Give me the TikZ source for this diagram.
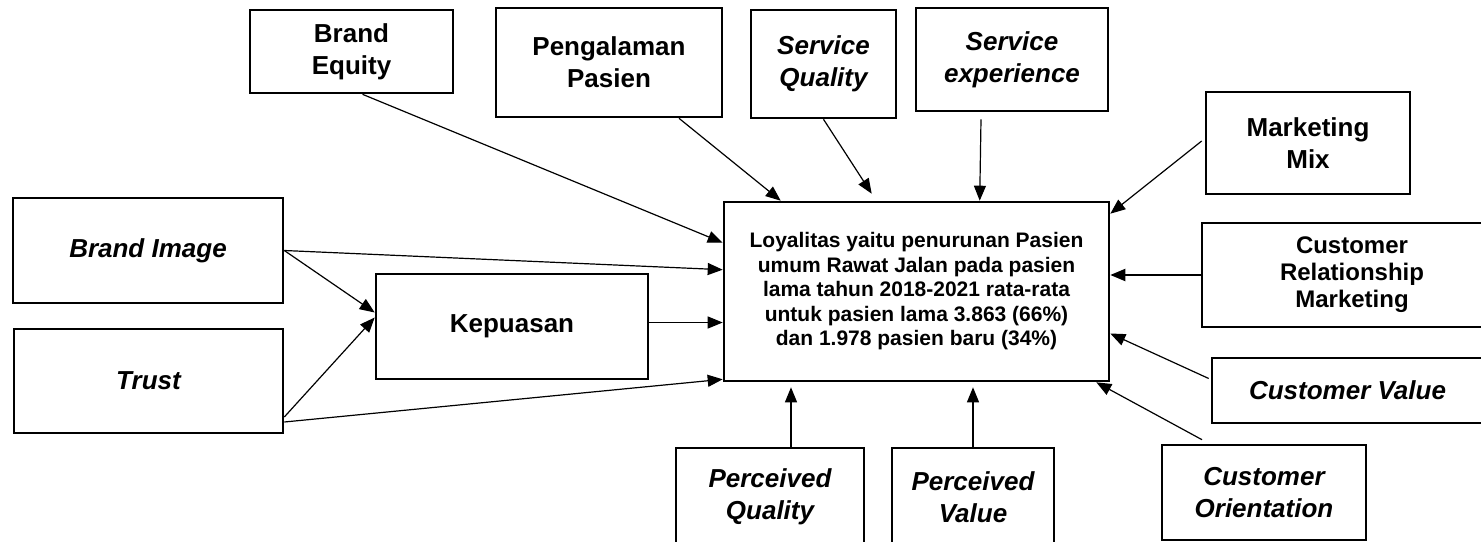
\documentclass[tikz,border=0pt]{standalone}
\usepackage{fontspec}
\setmainfont{Liberation Sans}
\usetikzlibrary{arrows.meta,calc}

\begin{document}
\begin{tikzpicture}[x=1pt, y=-1pt,
    % Styles
    factor/.style={draw=black, line width=2.6pt, align=center, inner sep=0pt, font=\fontsize{26}{32}\selectfont\bfseries},
    factor-it/.style={factor, font=\fontsize{26}{32}\selectfont\bfseries\itshape},
    loyalty/.style={draw=black, line width=2.6pt, align=center, inner sep=0pt, minimum width=385pt, minimum height=179pt, font=\fontsize{21}{24.5}\selectfont\bfseries},
    influence-arrow/.style={-{Triangle[length=15pt,width=12pt]}, line width=1.2pt, black},
]

\useasboundingbox (0,0) rectangle (1481,541);
\clip (0,0) rectangle (1481,541);

% Top row
\node[factor, minimum width=203pt, minimum height=83pt] (equity) at (351.5,51.5) {Brand\\Equity};
\node[factor, minimum width=226pt, minimum height=109pt] (pengalaman) at (609,62.5) {Pengalaman\\Pasien};
\node[factor-it, minimum width=145pt, minimum height=108pt] (squality) at (823.5,64) {Service\\Quality};
\node[factor-it, minimum width=192pt, minimum height=103pt] (sexperience) at (1012,59.5) {Service\\experience};

% Right column
\node[factor, minimum width=204pt, minimum height=102pt] (mix) at (1308,143) {Marketing\\Mix};
\node[factor, font=\fontsize{24}{27}\selectfont\bfseries, minimum width=300pt, minimum height=104pt] (crm) at (1352,275) {Customer\\Relationship\\Marketing};
\node[factor-it, minimum width=271pt, minimum height=65pt] (cvalue) at (1347.5,390.5) {Customer Value};
\node[factor-it, minimum width=204pt, minimum height=95pt] (orientation) at (1264,492.5) {Customer\\Orientation};

% Bottom row
\node[factor-it, minimum width=188pt, minimum height=98pt] (pquality) at (770,497) {Perceived\\Quality};
\node[factor-it, minimum width=162pt, minimum height=98pt] (pvalue) at (973,497) {Perceived\\Value};

% Left side
\node[factor-it, minimum width=270pt, minimum height=105pt] (image) at (148,250.5) {Brand Image};
\node[factor-it, minimum width=269pt, minimum height=104pt] (trust) at (148.5,381) {Trust};
\node[factor, minimum width=272pt, minimum height=105pt] (kepuasan) at (512,326.5) {Kepuasan};

% Central box
\node[loyalty] (loyal) at (916.5,291.5) {Loyalitas yaitu penurunan Pasien\\umum Rawat Jalan pada pasien\\lama tahun 2018-2021 rata-rata\\untuk pasien lama 3.863 (66\%)\\dan 1.978 pasien baru (34\%)};

% Arrows from the top
\draw[influence-arrow] ($(equity.south)+(11,0)$) -- ($(loyal.north west)+(0,42)$);
\draw[influence-arrow] ($(pengalaman.south)+(70,0)$) -- ($(loyal.north west)+(58,0)$);
\draw[influence-arrow] (squality.south) -- ($(loyal.north west)+(149,-7)$);
\draw[influence-arrow] ($(sexperience.south)+(-31,7)$) -- ($(loyal.north west)+(257,0)$);

% Arrows from the right
\draw[influence-arrow] ($(mix.west)+(-3,-2)$) -- ($(loyal.north east)+(0,13)$);
\draw[influence-arrow, line width=2pt] (crm.west) -- (loyal.east |- crm.west);
\draw[influence-arrow] ($(cvalue.west)+(-2,-12)$) -- ($(loyal.east)+(0,42)$);
\draw[influence-arrow] ($(orientation.north)+(-62,-4)$) -- ($(loyal.south east)+(-14,0)$);

% Arrows from the bottom
\coordinate (pq-top) at ($(pquality.north)+(21,0)$);
\draw[influence-arrow] (pq-top) -- ($(pq-top |- loyal.south)+(0,5)$);
\draw[influence-arrow] (pvalue.north) -- ($(pvalue.north |- loyal.south)+(0,5)$);

% Arrows from the left
\draw[influence-arrow] (image.east) -- ($(loyal.north west)+(0,69)$);
\draw[influence-arrow] (image.east) -- ($(kepuasan.west)+(0,-14)$);
\draw[influence-arrow] ($(trust.east)+(0,36)$) -- ($(kepuasan.west)+(0,-9)$);
\draw[influence-arrow] ($(trust.east)+(0,41)$) -- ($(loyal.south west)+(0,-3)$);
\draw[influence-arrow] ($(kepuasan.east)+(0,-4)$) -- ($(loyal.west)+(0,31)$);

\end{tikzpicture}
\end{document}
